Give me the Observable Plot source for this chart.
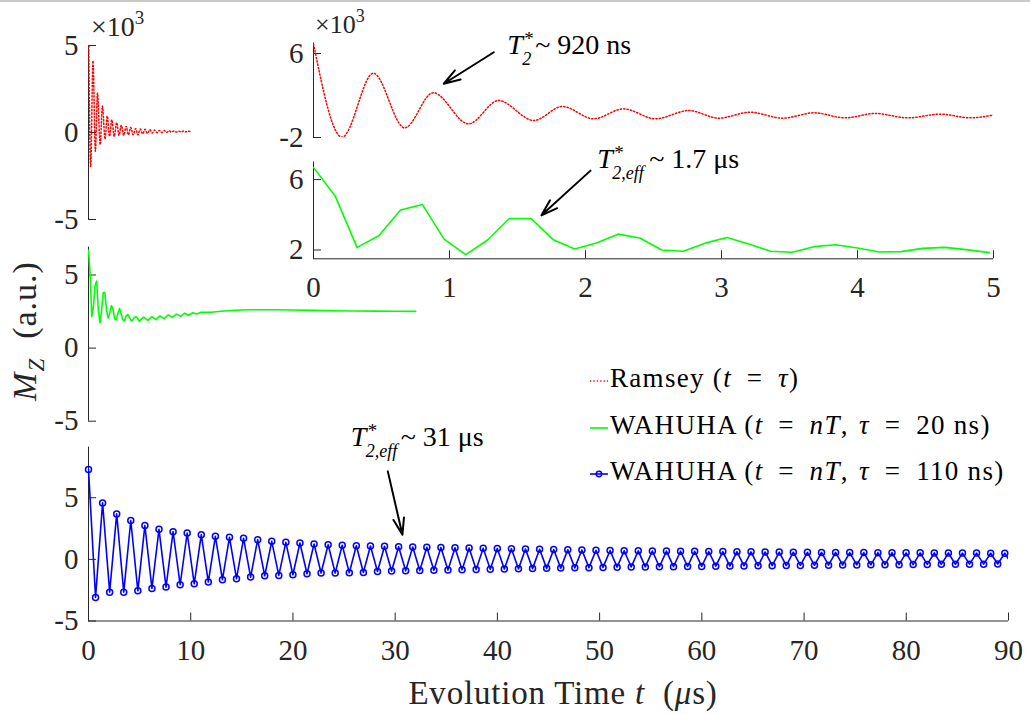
<!DOCTYPE html>
<html>
<head>
<meta charset="utf-8">
<script src="https://cdn.jsdelivr.net/npm/d3@7"></script>
<script src="https://cdn.jsdelivr.net/npm/@observablehq/plot@0.6"></script>
<style>
html,body{margin:0;padding:0;background:#fff;overflow:hidden;}
#wrap{position:relative;width:1030px;height:714px;font-family:"Liberation Serif","Times New Roman",serif;color:#262626;}
#wrap svg{position:absolute;left:0;top:0;}
#wrap svg text{font-family:"Liberation Serif","Times New Roman",serif;}
.lbl{position:absolute;white-space:nowrap;line-height:1;}
.topline{position:absolute;left:0;top:0;width:1030px;height:2px;background:#c8c8c8;}
.up{position:relative;}
</style>
</head>
<body>
<div id="wrap"><div class="topline"></div></div>
<script>
// ---------------- data ----------------
// Ramsey (t = tau): turning points of the dotted trace; time in µs, Mz in units of 10^3
const ramseyT = [0,0.21,0.44,0.67,0.88,1.14,1.36,1.62,1.83,2.06,2.28,2.515,2.76,2.98,3.21,3.45,3.68,3.91,4.13,4.37,4.61,4.83,5.07,5.30,5.53,5.77,6.00,6.24,6.47,6.71,6.94,7.18,7.41,7.65,7.88,8.12,8.35,8.59,8.82,9.06,9.29,9.53,9.76,10.0];
const ramseyV = [6.92,-1.97,4.12,-1.08,2.26,-0.70,1.52,-0.38,0.95,-0.22,0.73,-0.22,0.57,-0.16,0.41,-0.16,0.35,-0.13,0.29,-0.13,0.22,-0.13,0.20,-0.08,0.18,-0.05,0.16,-0.03,0.14,-0.01,0.12,0.00,0.11,0.01,0.10,0.02,0.09,0.03,0.08,0.03,0.08,0.04,0.07,0.05];

// WAHUHA tau = 20 ns: sampled points over the first 5 µs
const greenT = [0,0.16,0.32,0.48,0.64,0.80,0.96,1.12,1.28,1.44,1.60,1.76,1.92,2.08,2.24,2.40,2.56,2.72,2.88,3.04,3.20,3.36,3.52,3.68,3.84,4.00,4.16,4.32,4.48,4.64,4.80,4.97];
const greenV = [6.69,5.06,2.15,2.81,4.27,4.59,2.62,1.74,2.57,3.79,3.79,2.60,2.06,2.40,2.90,2.68,2.00,1.93,2.39,2.71,2.34,1.93,1.87,2.19,2.30,2.11,1.89,1.91,2.09,2.15,2.02,1.85];
// WAHUHA tau = 20 ns: continuation to 32 µs (main panel only)
const greenTailT = [5.4,5.8,6.2,6.6,7.0,7.4,7.8,8.2,8.6,9.0,9.4,9.8,10.2,10.6,11.0,12,13,14,15,16,18,20,22,24,26,28,30,32];
const greenTailV = [2.12,1.90,2.15,1.95,2.20,2.02,2.27,2.10,2.32,2.17,2.38,2.25,2.42,2.33,2.45,2.45,2.52,2.57,2.60,2.62,2.62,2.60,2.58,2.55,2.54,2.53,2.52,2.51];

// WAHUHA tau = 110 ns: alternating maxima / minima, one cycle = bluePeriod µs
const bluePeriod = 1.379;
const bluePeaks = [7.3,4.58,3.69,3.15,2.74,2.44,2.25,2.14,2.0,1.87,1.79,1.71,1.6,1.46,1.38,1.33,1.25,1.19,1.14,1.11,1.08,1.06,1.03,1.0,0.98,0.96,0.94,0.92,0.9,0.88,0.86,0.84,0.82,0.8,0.78,0.76,0.74,0.72,0.7,0.69,0.68,0.67,0.66,0.65,0.64,0.63,0.62,0.61,0.6,0.59,0.58,0.57,0.56,0.56,0.55,0.55,0.54,0.54,0.53,0.53,0.52,0.52,0.51,0.51,0.5,0.5];
const blueTroughs = [-3.09,-2.66,-2.66,-2.55,-2.36,-2.25,-2.06,-1.98,-1.84,-1.65,-1.57,-1.44,-1.33,-1.3,-1.25,-1.17,-1.11,-1.11,-1.08,-1.06,-0.98,-0.95,-0.93,-0.91,-0.89,-0.87,-0.85,-0.83,-0.81,-0.79,-0.77,-0.75,-0.73,-0.71,-0.69,-0.67,-0.65,-0.63,-0.62,-0.61,-0.6,-0.59,-0.58,-0.57,-0.55,-0.54,-0.53,-0.52,-0.51,-0.5,-0.49,-0.48,-0.47,-0.46,-0.45,-0.44,-0.43,-0.43,-0.42,-0.41,-0.4,-0.4,-0.39,-0.39,-0.38,-0.38];

// tick values
const xTicksMain = [0,10,20,30,40,50,60,70,80,90];
const xTicksInset = [0,1,2,3,4,5];
const yTicksStack = [-5,0,5];
const yTicksRamseyInset = [-2,6];
const yTicksGreenInset = [2,6];

// legend (en spaces emulate the wider math spacing around "=")
const legendLabels = [
  "Ramsey (<i>t</i>\u2002=\u2002<i>τ</i>)",
  "WAHUHA (<i>t</i>\u2002=\u2002<i>nT</i>,\u2004<i>τ</i>\u2002=\u200220 ns)",
  "WAHUHA (<i>t</i>\u2002=\u2002<i>nT</i>,\u2004<i>τ</i>\u2002=\u2002110 ns)"
];
const legendColors = ["#ff0000", "#00ff00", "#0000ff"];

// annotations (in the data units of their panel)
const noteRamsey = {tx: 1.424, ty: 5.97, x1: 1.326, y1: 6.12, x2: 0.958, y2: 3.12};
const noteGreen  = {tx: 2.086, ty: 6.65, x1: 2.037, y1: 6.51, x2: 1.676, y2: 3.97};
const noteBlue   = {tx: 25.65, ty: 9.23, x1: 29.28, y1: 7.14, x2: 30.71, y2: 1.99};

// ---------------- build tables ----------------
const ramsey = ramseyT.map((t, i) => ({t, v: ramseyV[i]}));
const green = greenT.map((t, i) => ({t, v: greenV[i]}));
const greenFull = green.concat(greenTailT.map((t, i) => ({t, v: greenTailV[i]})));
const blue = [];
bluePeaks.forEach((v, k) => {
  blue.push({t: k * bluePeriod, v});
  if (k < blueTroughs.length) blue.push({t: (k + 0.5) * bluePeriod, v: blueTroughs[k]});
});

// ---------------- layout ----------------
const W = 1030, H = 714, AX = "#262626";
const FONT = '"Liberation Serif", "Times New Roman", serif';
const TICKFS = 29;
const G = {
  ramseyMain:  {left: 88,  right: 1008, top: 45,    bottom: 219,   x: [0, 90], y: [-5, 5]},
  greenMain:   {left: 88,  right: 1008, top: 246.7, bottom: 420.7, x: [0, 90], y: [-5, 6.9]},
  blueMain:    {left: 88,  right: 1008, top: 446.7, bottom: 620.5, x: [0, 90], y: [-5, 9.1]},
  ramseyInset: {left: 313, right: 993,  top: 42.5,  bottom: 137,   x: [0, 5],  y: [-2, 7]},
  greenInset:  {left: 313, right: 993,  top: 161.5, bottom: 258.3, x: [0, 5],  y: [1.5, 7]}
};

function panel(g, marks) {
  return Plot.plot({
    width: W, height: H,
    marginLeft: g.left, marginRight: W - g.right,
    marginTop: g.top, marginBottom: H - g.bottom,
    x: {domain: g.x, axis: null},
    y: {domain: g.y, axis: null},
    style: {background: "transparent", fontFamily: FONT, color: AX},
    marks
  });
}
function yAxis(g, ticks) {
  return [
    Plot.ruleX([g.x[0]], {stroke: AX, strokeWidth: 1}),
    Plot.tickY(ticks, {y: d => d, stroke: AX, insetRight: (g.right - g.left) - 8}),
    Plot.axisY({ticks, tickSize: 0, tickPadding: 10, fontSize: TICKFS, label: null, tickFormat: d => String(d)})
  ];
}
function xAxis(g, ticks) {
  return [
    Plot.ruleY([g.y[0]], {stroke: AX, strokeWidth: 1}),
    Plot.tickX(ticks, {x: d => d, stroke: AX, insetTop: (g.bottom - g.top) - 8}),
    Plot.axisX({ticks, tickSize: 0, tickPadding: 18, fontSize: TICKFS, label: null, tickFormat: d => String(d)})
  ];
}
function starNote(a, sub, subFs, rest, restDx) {
  const d = [a];
  const base = {x: "tx", y: "ty", textAnchor: "start", lineAnchor: "bottom", fill: "#000", fontFamily: FONT};
  return [
    Plot.arrow(d, {x1: "x1", y1: "y1", x2: "x2", y2: "y2", stroke: "#000", strokeWidth: 2, headLength: 13, headAngle: 36}),
    Plot.text(d, {...base, text: () => "T", fontSize: 28, fontStyle: "italic"}),
    Plot.text(d, {...base, text: () => "*", fontSize: 19, dx: 17, dy: -9}),
    Plot.text(d, {...base, text: () => sub, fontSize: subFs, fontStyle: "italic", dx: 15, dy: 11}),
    Plot.text(d, {...base, text: () => rest, fontSize: 28, dx: restDx})
  ];
}

const redLine = {x: "t", y: "v", stroke: "#ff0000", strokeWidth: 1.5, strokeDasharray: "1.3,2.1", curve: "monotone-x", clip: true};
const greenLine = {x: "t", y: "v", stroke: "#00ff00", strokeWidth: 1.6, clip: true};

const wrap = document.getElementById("wrap");

wrap.append(panel(G.ramseyMain, [
  ...yAxis(G.ramseyMain, yTicksStack),
  Plot.line(ramsey, redLine)
]));
wrap.append(panel(G.greenMain, [
  ...yAxis(G.greenMain, yTicksStack),
  Plot.line(greenFull, greenLine)
]));
wrap.append(panel(G.blueMain, [
  ...yAxis(G.blueMain, yTicksStack),
  ...xAxis(G.blueMain, xTicksMain),
  Plot.line(blue, {x: "t", y: "v", stroke: "#0000ff", strokeWidth: 1.6, clip: true}),
  Plot.dot(blue.filter(d => d.t <= 90), {x: "t", y: "v", r: 3, stroke: "#0000ff", strokeWidth: 1.5, fill: "none"}),
  ...starNote(noteBlue, "2,eff", 18, "~ 31 μs", 50)
]));
wrap.append(panel(G.ramseyInset, [
  ...yAxis(G.ramseyInset, yTicksRamseyInset),
  Plot.line(ramsey, redLine),
  ...starNote(noteRamsey, "2", 18, "~ 920 ns", 28)
]));
wrap.append(panel(G.greenInset, [
  ...yAxis(G.greenInset, yTicksGreenInset),
  ...xAxis(G.greenInset, xTicksInset),
  Plot.line(green, greenLine),
  ...starNote(noteGreen, "2,eff", 18, "~ 1.7 μs", 52)
]));

// ---------------- HTML labels ----------------
function addLabel(html, style) {
  const el = document.createElement("div");
  el.className = "lbl";
  el.innerHTML = html;
  Object.assign(el.style, style);
  wrap.appendChild(el);
  return el;
}
// ×10^3 exponent labels
addLabel('×10<span class="up" style="font-size:19px;top:-12px;">3</span>', {left: "91px", top: "13px", fontSize: "28px"});
addLabel('×10<span class="up" style="font-size:18px;top:-11px;">3</span>', {left: "315px", top: "12px", fontSize: "26px"});
// axis titles
addLabel('Evolution Time <i>t</i>&nbsp; (<i>μ</i>s)', {left: "563px", top: "677px", fontSize: "33px", letterSpacing: "0.8px", transform: "translateX(-50%)"});
addLabel('<i>M</i><span class="up" style="font-size:23px;top:8px;"><i>Z</i></span>&nbsp; (a.u.)',
  {left: "25px", top: "331px", fontSize: "34px", letterSpacing: "1px", transform: "translate(-50%,-50%) rotate(-90deg)"});

// legend
const legTop = [365, 412, 458];
legendLabels.forEach((lab, i) => {
  const row = addLabel("", {left: "589px", top: legTop[i] + "px", fontSize: "27px", letterSpacing: "1.3px"});
  const sw = d3.create("svg").attr("width", 20).attr("height", 12)
    .style("position", "static").style("vertical-align", "middle").style("margin-right", "1px");
  sw.append("line").attr("x1", 1).attr("x2", 19).attr("y1", 6).attr("y2", 6)
    .attr("stroke", legendColors[i]).attr("stroke-width", 1.6)
    .attr("stroke-dasharray", i === 0 ? "1.3,2.1" : null);
  if (i === 2) sw.append("circle").attr("cx", 10).attr("cy", 6).attr("r", 2.7)
    .attr("fill", "none").attr("stroke", legendColors[i]).attr("stroke-width", 1.5);
  row.appendChild(sw.node());
  const span = document.createElement("span");
  span.innerHTML = lab;
  span.style.color = "#000";
  row.appendChild(span);
});
</script>
</body>
</html>
